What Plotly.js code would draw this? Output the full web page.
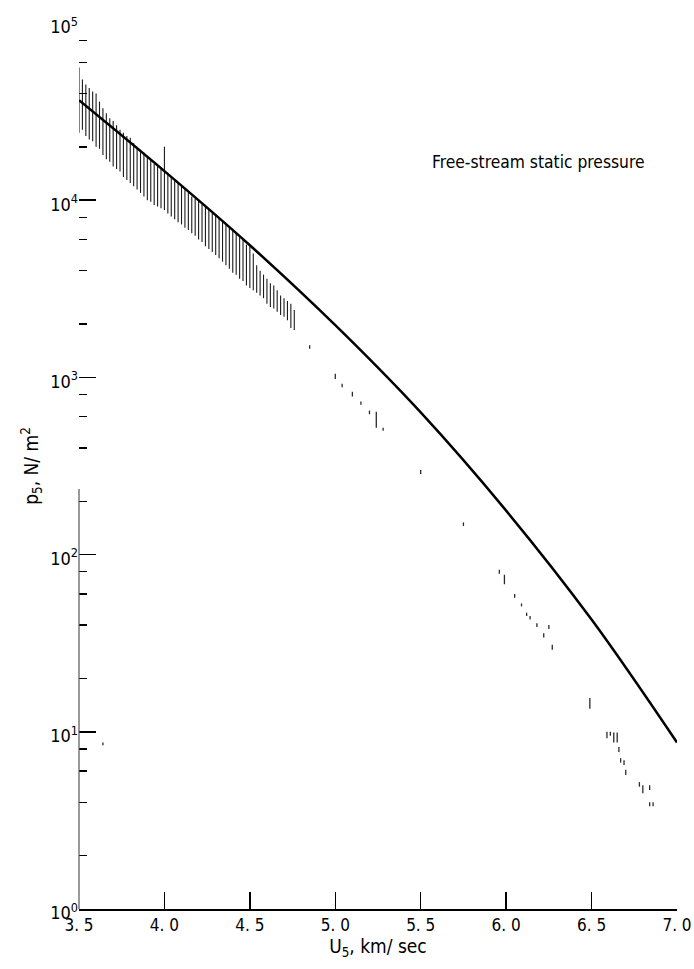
<!DOCTYPE html>
<html>
<head>
<meta charset="utf-8">
<script src="https://cdn.plot.ly/plotly-3.0.1.min.js"></script>
<style>html,body{margin:0;padding:0;background:#fff}#chart{width:694px;height:969px}</style>
</head>
<body>
<div id="chart"></div>
<script>
// Theoretical curve: free-stream static pressure vs velocity
const curveU = [3.5, 4.0, 4.5, 5.0, 5.5, 6.0, 6.5, 7.0];
const curveP = [36700, 14600, 5570, 1970, 634, 177, 43, 8.7];

// Dense measured ranges (vertical bars)
const barU = [3.50,3.52,3.54,3.56,3.58,3.60,3.62,3.64,3.66,3.68,3.70,3.72,3.74,3.76,3.78,3.80,3.82,3.84,3.86,3.88,3.90,3.92,3.94,3.96,3.98,4.00,4.02,4.04,4.06,4.08,4.10,4.12,4.14,4.16,4.18,4.20,4.22,4.24,4.26,4.28,4.30,4.32,4.34,4.36,4.38,4.40,4.42,4.44,4.46,4.48,4.50,4.52,4.54,4.56,4.58,4.60,4.62,4.64,4.66,4.68,4.70,4.72,4.74,4.76];
const barLow = [24000,25000,23000,22000,21500,20000,19500,18000,17000,16500,15500,15000,14500,13500,13000,12500,12000,11500,11000,10500,10000,9800,9400,9200,9000,8800,8400,8100,7800,7500,7300,7000,6800,6500,6300,6000,5800,5500,5300,5100,4900,4700,4500,4300,4100,3900,3800,3600,3500,3300,3200,3100,3000,2900,2800,2600,2500,2450,2350,2250,2200,2100,1900,1850];
const barHigh = [56000,48000,45000,43000,41000,40000,36000,33000,31000,29000,28000,26500,25000,24000,23000,22500,21000,20000,19000,18500,17500,17000,16000,15500,15000,20000,14000,13500,13000,12500,12000,11500,11000,10500,10200,10000,9500,9200,8800,8500,8300,8000,7600,7300,7000,6900,6500,6300,6000,5600,5500,5000,4300,4000,3800,3600,3400,3300,3100,2900,2800,2700,2600,2400];

// Sparse measured points at higher velocities
const dotU = [3.64,4.85,5.00,5.04,5.10,5.15,5.20,5.24,5.28,5.50,5.75,5.96,5.99,6.05,6.09,6.12,6.14,6.18,6.22,6.25,6.27,6.49,6.59,6.61,6.63,6.65,6.66,6.67,6.69,6.70,6.78,6.80,6.84,6.84,6.86];
const dotLow = [8.4,1450,980,880,780,700,620,520,500,285,145,78,68,57,51,45,43,39,34,38,29,13.5,9.2,9.5,8.7,8.7,7.7,6.7,6.5,5.7,4.9,4.5,4.7,3.8,3.8];
const dotHigh = [8.7,1520,1050,920,830,730,650,640,520,300,152,82,77,60,53,47,45,41,36,40,31,15.5,10,10,9.9,9.9,8.2,7.1,6.9,6.1,5.2,5.0,5.0,4.0,4.0];

const xTickVals = [3.5,4.0,4.5,5.0,5.5,6.0,6.5,7.0];
const xTickText = ['3. 5','4. 0','4. 5','5. 0','5. 5','6. 0','6. 5','7. 0'];
const yTickVals = [1,10,100,1000,10000,100000];
const yTickText = ['10<sup>0</sup>','10<sup>1</sup>','10<sup>2</sup>','10<sup>3</sup>','10<sup>4</sup>','10<sup>5</sup>'];

function segs(xs, lo, hi) {
  const X = [], Y = [];
  for (let i = 0; i < xs.length; i++) { X.push(xs[i], xs[i], null); Y.push(lo[i], hi[i], null); }
  return {X, Y};
}
const b = segs(barU, barLow, barHigh);
const d = segs(dotU, dotLow, dotHigh);

const minorVals = [];
for (let k = 0; k < 5; k++) for (const m of [2,4,6,8]) minorVals.push(m * Math.pow(10, k));

const FONT = 'DejaVu Sans Condensed, DejaVu Sans, sans-serif';

const traces = [
  {x: b.X, y: b.Y, mode: 'lines', line: {color: '#1a1a1a', width: 1.1}, connectgaps: false, hoverinfo: 'skip', showlegend: false},
  {x: d.X, y: d.Y, mode: 'lines', line: {color: '#2a2a2a', width: 1.3}, connectgaps: false, hoverinfo: 'skip', showlegend: false},
  {x: curveU, y: curveP, mode: 'lines', line: {color: '#000', width: 2.5, shape: 'spline', smoothing: 1}, showlegend: false}
];

const layout = {
  width: 694, height: 969,
  margin: {l: 79, r: 17, t: 23, b: 60},
  paper_bgcolor: '#fff', plot_bgcolor: '#fff',
  font: {family: FONT, color: '#000', size: 18},
  showlegend: false,
  xaxis: {
    range: [3.5, 7.0], tickmode: 'array', tickvals: xTickVals, ticktext: xTickText,
    ticks: 'inside', ticklen: 17, tickwidth: 1.3, tickcolor: '#000',
    showline: true, linecolor: '#000', linewidth: 1.5, showgrid: false, zeroline: false,
    tickfont: {family: FONT, size: 17}, ticklabeloverflow: 'allow',
    title: {text: 'U<sub>5</sub>, km/ sec', font: {family: FONT, size: 19}, standoff: 2}
  },
  yaxis: {
    type: 'log', range: [0, 5], tickmode: 'array', tickvals: yTickVals, ticktext: yTickText,
    ticks: 'inside', ticklen: 17, tickwidth: 1.5, tickcolor: '#000',
    minor: {tickmode: 'array', tickvals: minorVals, ticks: 'inside', ticklen: 8, tickwidth: 1.3, tickcolor: '#000', showgrid: false},
    showline: false, showgrid: false, zeroline: false,
    tickfont: {family: FONT, size: 18}, ticklabelstandoff: 0, ticklabelshift: 4, ticklabeloverflow: 'allow',
    title: {text: 'p<sub>5</sub>, N/ m<sup>2</sup>', font: {family: FONT, size: 19}, standoff: 6}
  },
  shapes: [
    {type: 'line', xref: 'paper', yref: 'paper', x0: 0, x1: 0, y0: 0, y1: 0.474, line: {color: '#555', width: 1.2}}
  ],
  annotations: [
    {xref: 'paper', yref: 'paper', x: 0.587, y: 0.843, xanchor: 'left', yanchor: 'middle', showarrow: false,
     text: 'Free-stream static pressure', font: {family: FONT, size: 17.3, color: '#000'}}
  ]
};

Plotly.newPlot('chart', traces, layout, {displayModeBar: false, staticPlot: true});
</script>
</body>
</html>
